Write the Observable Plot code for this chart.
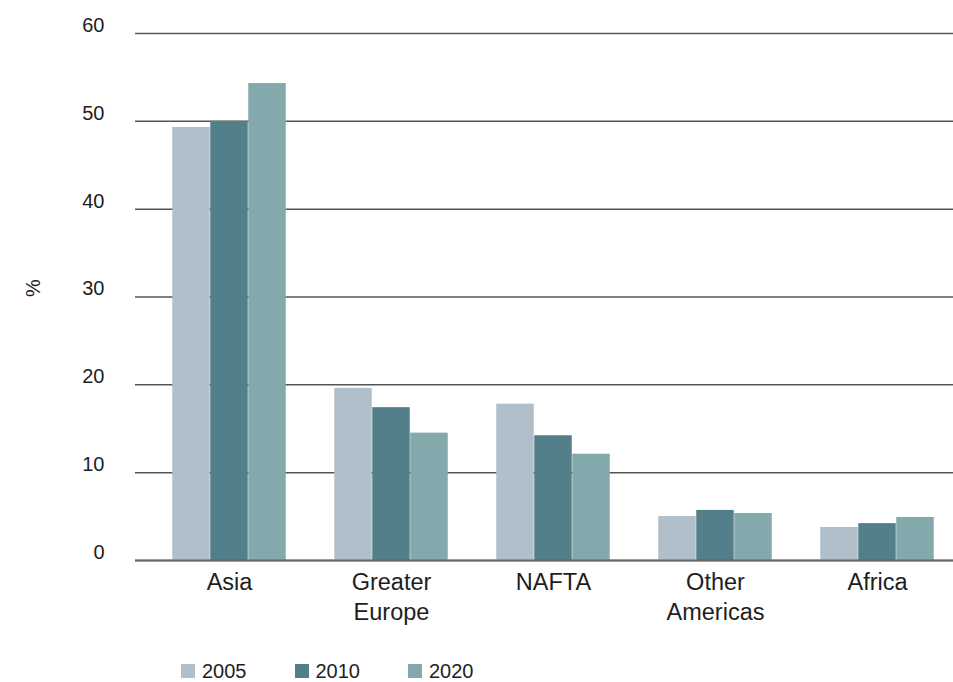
<!DOCTYPE html>
<html>
<head>
<meta charset="utf-8">
<script src="https://cdn.jsdelivr.net/npm/d3@7"></script>
<script src="https://cdn.jsdelivr.net/npm/@observablehq/plot@0.6"></script>
<style>
  html, body { margin: 0; padding: 0; background: #fff; }
  body { width: 953px; height: 682px; overflow: hidden; font-family: "Liberation Sans", Arial, Helvetica, sans-serif; color: #1e1e1e; }
  #legend { position: relative; height: 42px; }
  .item { position: absolute; top: 23px; display: flex; align-items: center; font-size: 20px; line-height: 16px; }
  .sw { width: 14px; height: 14px; margin-right: 7px; }
</style>
</head>
<body>
<div id="chart"></div>
<div id="legend"></div>
<script>
const regions = ["Asia", "Greater\nEurope", "NAFTA", "Other\nAmericas", "Africa"];
const years = ["2005", "2010", "2020"];
const v2005 = [49.3, 19.6, 17.8, 5.0, 3.76];
const v2010 = [50.0, 17.4, 14.2, 5.7, 4.2];
const v2020 = [54.3, 14.5, 12.1, 5.35, 4.9];
const colors = ["#b1bfca", "#537f8b", "#83a9ad"];
const yTicks = [0, 10, 20, 30, 40, 50, 60];

const series = [v2005, v2010, v2020];

const xRange = [147, 959.5];
const band = (xRange[1] - xRange[0]) / regions.length;
const barW = 38;
const outer = (band - barW * years.length) / 2;

const marks = [
  Plot.ruleY(yTicks, {stroke: "#555", strokeWidth: 1.5}),
];
years.forEach((yr, i) => {
  const data = regions.map((r, j) => ({region: r, value: series[i][j]}));
  const left = outer + barW * i;
  const right = band - left - barW;
  marks.push(Plot.barY(data, {
    x: "region", y: "value", fill: colors[i],
    insetLeft: left, insetRight: right
  }));
});
marks.push(Plot.ruleY([0], {stroke: "#666", strokeWidth: 2}));
marks.push(Plot.axisY({ticks: yTicks, tickSize: 0, tickPadding: 31, dy: -8, fontSize: 20, fill: "#1e1e1e", label: null}));
marks.push(Plot.axisX({tickSize: 0, tickPadding: 8, fontSize: 23.5, lineHeight: 1.28, fill: "#1e1e1e", label: null}));
marks.push(Plot.text(["%"], {frameAnchor: "left", dx: -102, rotate: -90, fontSize: 20, fill: "#1e1e1e"}));

const chart = Plot.plot({
  width: 953,
  height: 640,
  marginLeft: 135,
  marginRight: 0,
  marginTop: 33,
  marginBottom: 80,
  style: {fontFamily: '"Liberation Sans", Arial, Helvetica, sans-serif', background: "#fff", overflow: "visible"},
  x: {domain: regions, range: xRange, padding: 0},
  y: {domain: [0, 60]},
  marks
});
document.getElementById("chart").appendChild(chart);

const legend = document.getElementById("legend");
years.forEach((yr, i) => {
  const item = document.createElement("div");
  item.className = "item";
  item.style.left = (181 + i * 113.5) + "px";
  const sw = document.createElement("span");
  sw.className = "sw";
  sw.style.background = colors[i];
  const t = document.createElement("span");
  t.textContent = yr;
  item.appendChild(sw);
  item.appendChild(t);
  legend.appendChild(item);
});
</script>
</body>
</html>
